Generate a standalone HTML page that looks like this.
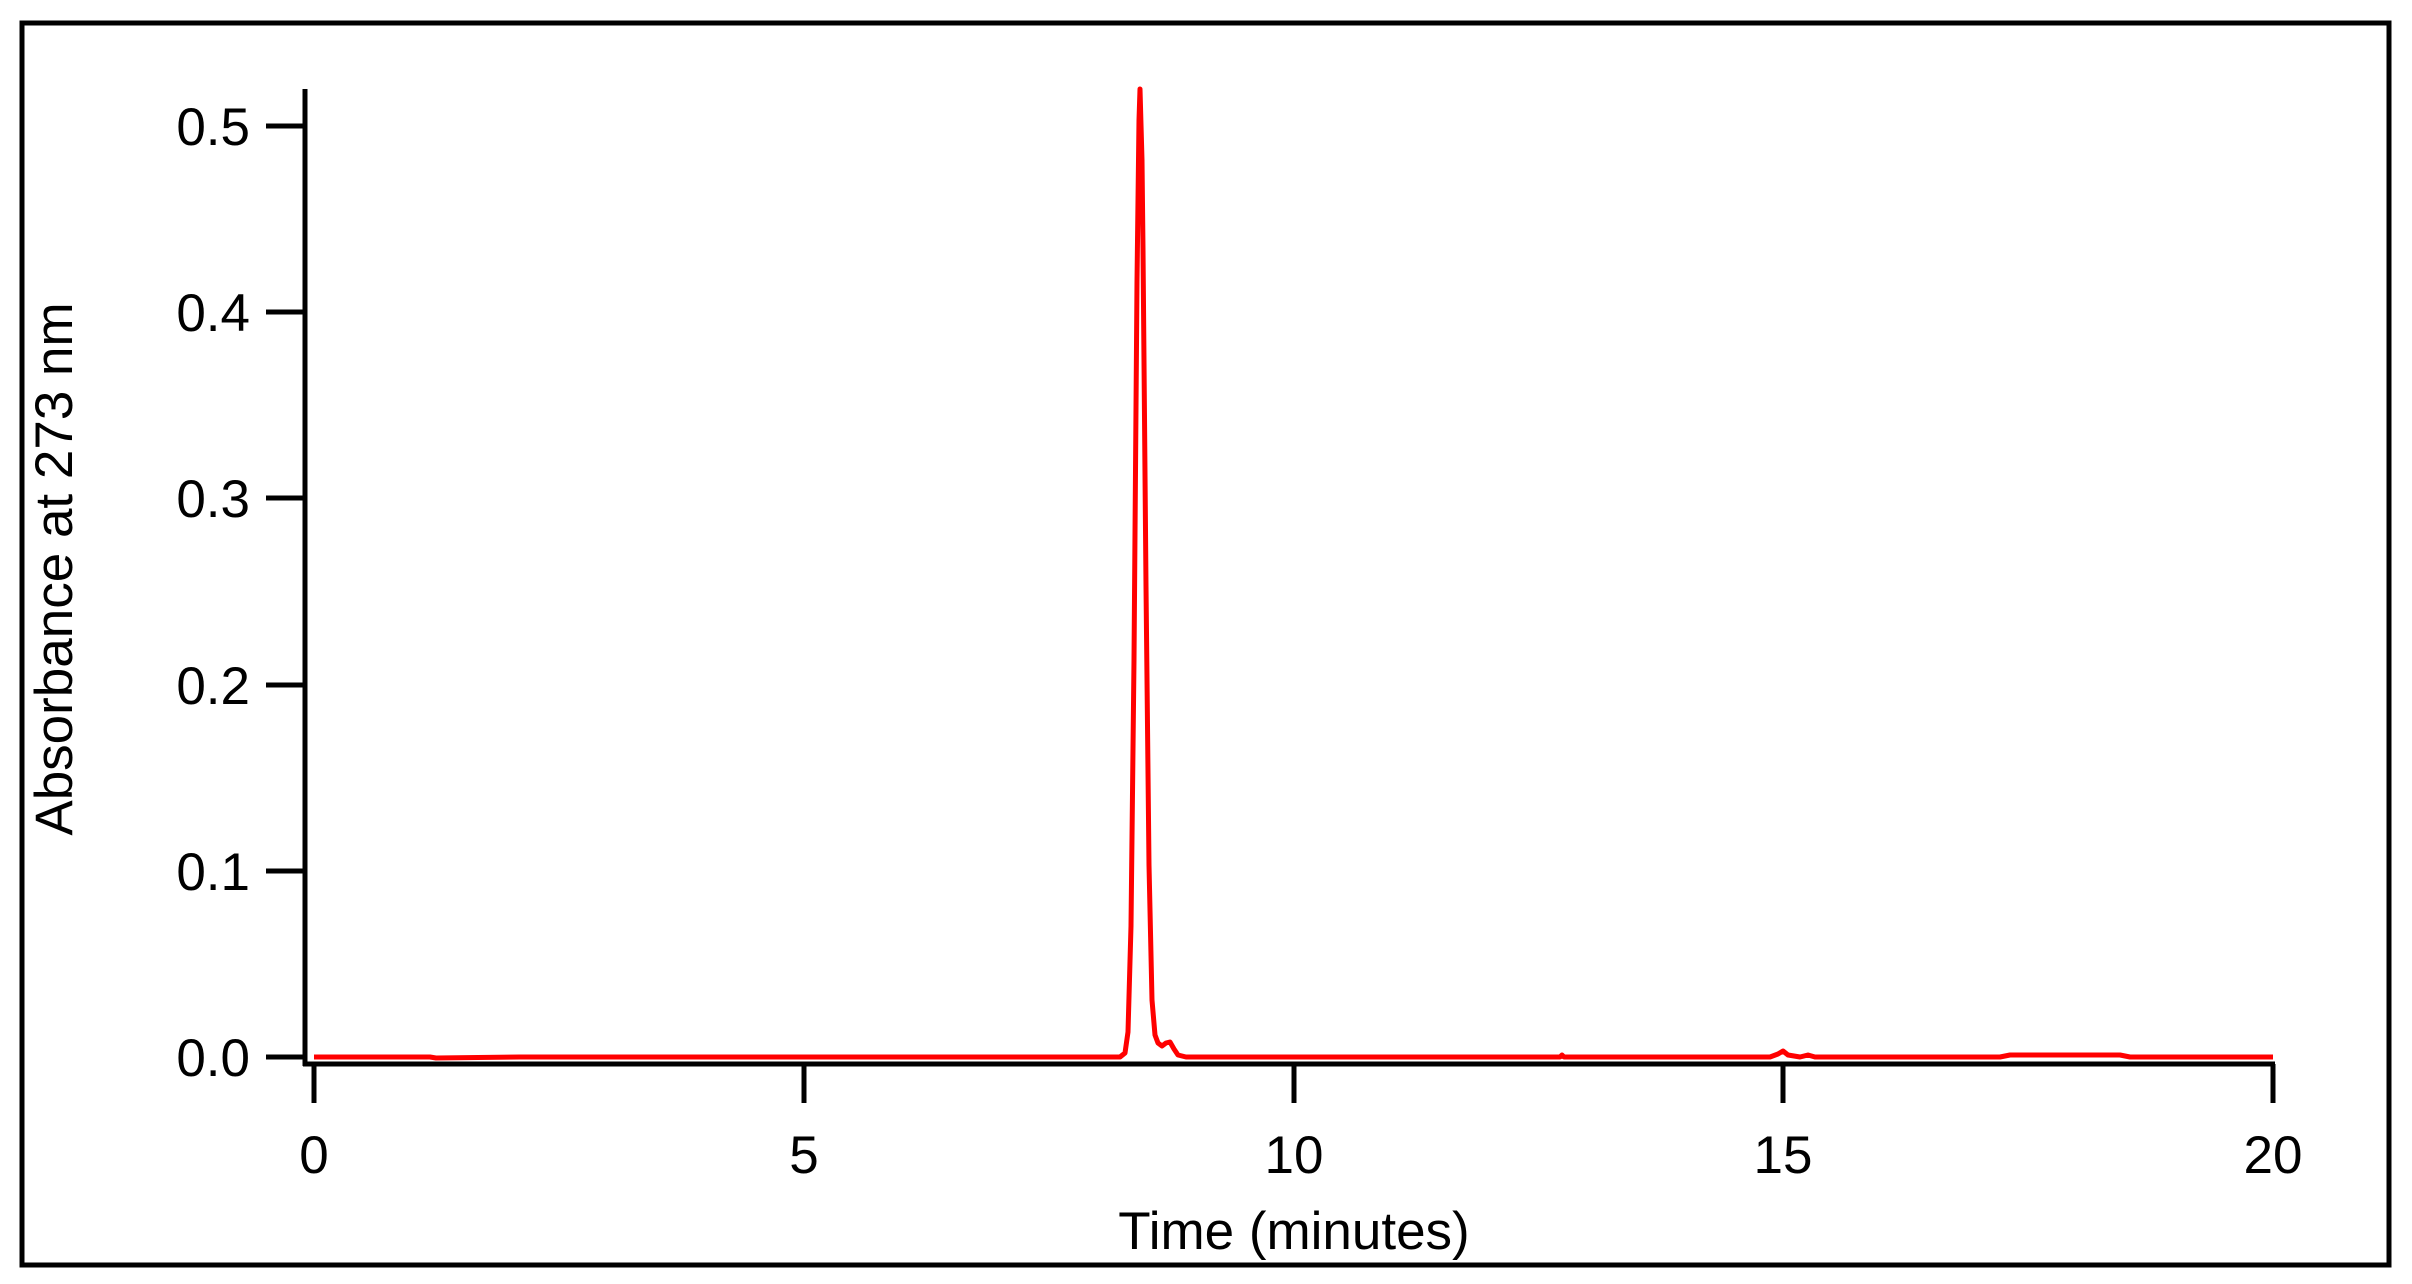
<!DOCTYPE html>
<html><head><meta charset="utf-8"><style>
html,body{margin:0;padding:0;background:#fff;}
svg{display:block;}
text{font-family:"Liberation Sans",Arial,sans-serif;fill:#000;}
</style></head><body>
<svg width="2412" height="1284" viewBox="0 0 2412 1284" xmlns="http://www.w3.org/2000/svg">
<rect x="22" y="23" width="2367" height="1242" fill="none" stroke="#000" stroke-width="5"/>
<line x1="305" y1="89" x2="305" y2="1066" stroke="#000" stroke-width="5"/>
<g stroke="#000" stroke-width="5">
<line x1="266" y1="1057" x2="305" y2="1057"/>
<line x1="266" y1="871" x2="305" y2="871"/>
<line x1="266" y1="685" x2="305" y2="685"/>
<line x1="266" y1="498" x2="305" y2="498"/>
<line x1="266" y1="312" x2="305" y2="312"/>
<line x1="266" y1="126" x2="305" y2="126"/>
</g>
<g font-size="53" text-anchor="end">
<text x="250" y="1076">0.0</text>
<text x="250" y="890">0.1</text>
<text x="250" y="704">0.2</text>
<text x="250" y="517">0.3</text>
<text x="250" y="331">0.4</text>
<text x="250" y="145">0.5</text>
</g>
<text transform="translate(72,569) rotate(-90)" font-size="53" text-anchor="middle">Absorbance at 273 nm</text>
<line x1="303" y1="1064" x2="2275" y2="1064" stroke="#000" stroke-width="5"/>
<g stroke="#000" stroke-width="5">
<line x1="314" y1="1064" x2="314" y2="1103"/>
<line x1="804" y1="1064" x2="804" y2="1103"/>
<line x1="1294" y1="1064" x2="1294" y2="1103"/>
<line x1="1783" y1="1064" x2="1783" y2="1103"/>
<line x1="2273" y1="1064" x2="2273" y2="1103"/>
</g>
<g font-size="53" text-anchor="middle">
<text x="314" y="1173">0</text>
<text x="804" y="1173">5</text>
<text x="1294" y="1173">10</text>
<text x="1783" y="1173">15</text>
<text x="2273" y="1173">20</text>
</g>
<text x="1294" y="1249" font-size="53" text-anchor="middle">Time (minutes)</text>
<polyline fill="none" stroke="#f00" stroke-width="5" stroke-linejoin="round" points="
314,1057 430,1057 436,1058 520,1057 1120,1057 1125,1053 1128,1032 1131,926 1134,660 1137,282 1139,120 1140,89 1142,160 1143,249 1146,586 1149,865 1152,1000 1155,1035 1158,1043 1162,1046 1166,1043 1170,1042 1174,1049 1178,1055 1186,1057 1560,1057 1562,1055 1564,1057 1770,1057 1778,1054 1783,1051 1788,1055 1800,1057 1808,1055 1815,1057 2000,1057 2010,1055 2120,1055 2130,1057 2273,1057"/>
</svg>
</body></html>
